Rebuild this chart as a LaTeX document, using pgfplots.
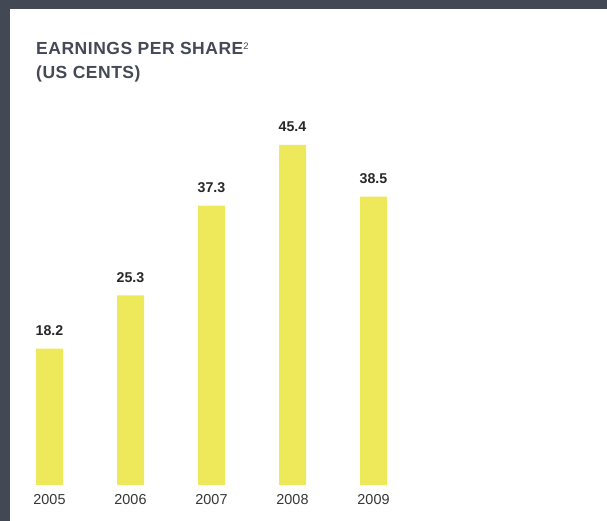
\documentclass[border=0pt]{standalone}
\usepackage{pgfplots}
\pgfplotsset{compat=1.18}
\usepackage{fontspec}
\setmainfont{Liberation Sans}
\newfontfamily\titlefont[LetterSpace=3]{Liberation Sans}
\definecolor{frame}{RGB}{66,72,84}
\definecolor{titlec}{RGB}{67,73,85}
\definecolor{baryellow}{RGB}{238,233,90}
\definecolor{valc}{RGB}{40,40,40}
\definecolor{yearc}{RGB}{55,55,55}
\begin{document}
\begin{tikzpicture}[x=1pt,y=1pt]
\useasboundingbox (0,0) rectangle (607,521);
\fill[white] (0,0) rectangle (607,521);
\fill[frame] (0,512) rectangle (607,521);
\fill[frame] (0,0) rectangle (10,521);
\node[anchor=base west, inner sep=0, text=titlec, font=\fontsize{17.5}{17.5}\selectfont\titlefont\bfseries] at (36,466) {EARNINGS PER SHARE{\fontsize{9.5}{9.5}\selectfont\mdseries\raisebox{5pt}{2}}};
\node[anchor=base west, inner sep=0, text=titlec, font=\fontsize{17.5}{17.5}\selectfont\titlefont\bfseries] at (36,442.5) {(US CENTS)};
\begin{axis}[
  anchor=origin, at={(49.5pt,36pt)},
  x=81pt, y=7.49pt,
  xmin=-0.5, xmax=4.5, ymin=0, ymax=50,
  axis line style={draw=none},
  tick style={draw=none},
  ytick=\empty,
  xtick={0,1,2,3,4},
  xticklabels={2005,2006,2007,2008,2009},
  xticklabel style={anchor=base, yshift=-15pt, text=yearc, font=\fontsize{14.4}{14.4}\selectfont},
  clip=false,
  ybar, bar width=27pt,
  point meta=explicit symbolic,
  nodes near coords,
  nodes near coords style={anchor=base, yshift=13pt, text=valc, font=\fontsize{14.2}{14.2}\selectfont\bfseries},
]
\addplot[fill=baryellow, draw=none, bar shift=0pt] coordinates {
  (0,18.2) [18.2]
  (1,25.3) [25.3]
  (2,37.3) [37.3]
  (3,45.4) [45.4]
  (4,38.5) [38.5]
};
\end{axis}
\end{tikzpicture}
\end{document}
